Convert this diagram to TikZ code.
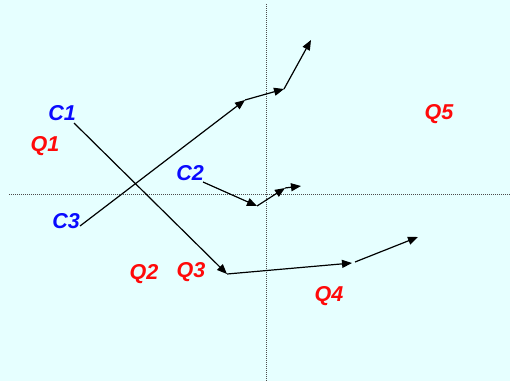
\documentclass[tikz,border=0pt]{standalone}
\usepackage{fontspec}
\setmainfont{Liberation Sans}
\usetikzlibrary{arrows.meta}
\definecolor{bgc}{HTML}{E6FFFF}
\definecolor{lblue}{HTML}{0A0AFF}
\definecolor{lred}{HTML}{FF0A0A}
\begin{document}
\begin{tikzpicture}[x=1pt,y=-1pt,
  lab/.style={font=\fontsize{21.5}{21.5}\selectfont\bfseries\itshape, inner sep=0pt},
  clab/.style={lab, text=lblue},
  qlab/.style={lab, text=lred},
  axis/.style={densely dotted, line width=1pt, black!70},
  vec/.style={line width=1.2pt, -{Triangle[length=10pt,width=8pt]}}]
\fill[bgc] (0,0) rectangle (510,381);
\useasboundingbox (0,0) rectangle (510,381);
% axes
\coordinate (vt) at (266,4);
\coordinate (vb) at (266,381);
\coordinate (hl) at (9,194);
\coordinate (hr) at (510,194);
\draw[axis] (vt) -- (vb);
\draw[axis] (hl) -- (hr);
% labels
\node[clab] (c1) at (62,113) {C1};
\node[clab] (c2) at (190,173) {C2};
\node[clab] (c3) at (66,221) {C3};
\node[qlab] (q1) at (45,146) {Q1};
\node[qlab] (q2) at (144,274) {Q2};
\node[qlab] (q3) at (191,272) {Q3};
\node[qlab] (q4) at (329,296) {Q4};
\node[qlab] (q5) at (439,114) {Q5};
% C1 path
\coordinate (a0) at (74,123);
\coordinate (a1) at (227,274);
\coordinate (a2) at (352,263);
\coordinate (a3) at (355,262);
\coordinate (a4) at (418,237);
\draw[vec] (a0) -- (a1);
\draw[vec] (a1) -- (a2);
\draw[vec] (a3) -- (a4);
% C3 path
\coordinate (b0) at (80,226);
\coordinate (b1) at (245,100);
\coordinate (b2) at (284,89);
\coordinate (b3) at (311,40);
\draw[vec] (b0) -- (b1);
\draw[vec] (b1) -- (b2);
\draw[vec] (b2) -- (b3);
% C2 path
\coordinate (d0) at (203,182);
\coordinate (d1) at (257,206);
\coordinate (d2) at (285,188);
\coordinate (d3) at (301,186);
\draw[vec] (d0) -- (d1);
\draw[vec] (d1) -- (d2);
\draw[vec] (d2) -- (d3);
\end{tikzpicture}
\end{document}
